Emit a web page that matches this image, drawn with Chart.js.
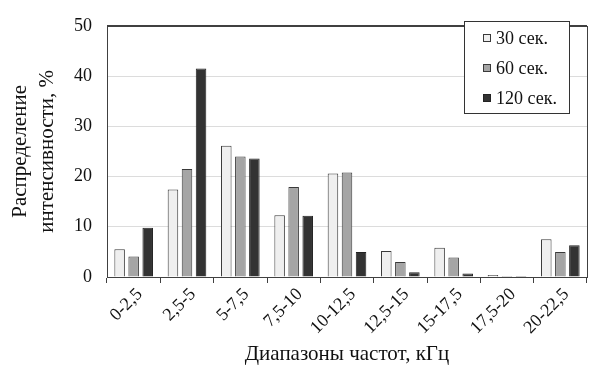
<!DOCTYPE html>
<html lang="ru">
<head>
<meta charset="utf-8">
<script src="https://cdn.jsdelivr.net/npm/chart.js@4"></script>
<style>
  html, body { margin: 0; padding: 0; background: #fff; }
  #wrap { width: 591px; height: 370px; position: relative; }
</style>
</head>
<body>
<div id="wrap"><canvas id="chartSpektr"></canvas></div>
<script>
// Диапазоны частот и распределение интенсивности (%)
const kategori = ["0-2,5", "2,5-5", "5-7,5", "7,5-10", "10-12,5", "12,5-15", "15-17,5", "17,5-20", "20-22,5"];
const data30 = [5.5, 17.4, 26.1, 12.3, 20.6, 5.2, 5.8, 0.4, 7.5];
const data60 = [4.1, 21.5, 24.0, 17.9, 20.8, 3.0, 3.9, 0.2, 5.0];
const data120 = [9.8, 41.5, 23.6, 12.2, 5.0, 0.95, 0.7, 0.2, 6.3];
const labelSeri = ["30 сек.", "60 сек.", "120 сек."];
const yTicks = [0, 10, 20, 30, 40, 50];

const hurufSerif = "'Liberation Serif', 'DejaVu Serif', serif";

// kotak legenda di dalam area grafik + bingkai
const legendaDalam = {
    id: "legendaDalam",
    afterDraw(chart) {
        const ctx = chart.ctx;
        const area = chart.chartArea;
        ctx.save();
        ctx.strokeStyle = "#404040";
        ctx.lineWidth = 1;
        ctx.strokeRect(Math.round(area.left) + 0.5, Math.round(area.top) + 0.5,
            Math.round(area.right - area.left), Math.round(area.bottom - area.top));

        const x = 464.5, y = 21.5, w = 105, h = 92;
        ctx.fillStyle = "#fff";
        ctx.fillRect(x, y, w, h);
        ctx.strokeStyle = "#333";
        ctx.strokeRect(x, y, w, h);
        ctx.font = "18px " + hurufSerif;
        ctx.textBaseline = "middle";
        chart.data.datasets.forEach((ds, i) => {
            const cy = 38 + i * 30;
            ctx.fillStyle = ds.backgroundColor;
            ctx.fillRect(483, cy - 4, 8, 8);
            ctx.strokeStyle = ds.borderColor;
            ctx.strokeRect(483.5, cy - 3.5, 7, 7);
            ctx.fillStyle = "#111";
            ctx.fillText(ds.label, 496, cy + 1);
        });
        ctx.restore();
    }
};

document.addEventListener("DOMContentLoaded", function () {
    new Chart(document.getElementById("chartSpektr"), {
        type: "bar",
        data: {
            labels: kategori,
            datasets: [
                { label: labelSeri[0], data: data30, backgroundColor: "#efefef", borderColor: "#3a3a3a", borderWidth: 1 },
                { label: labelSeri[1], data: data60, backgroundColor: "#a5a5a5", borderColor: "#3a3a3a", borderWidth: 1 },
                { label: labelSeri[2], data: data120, backgroundColor: "#333333", borderColor: "#222222", borderWidth: 1 }
            ]
        },
        options: {
            responsive: true,
            maintainAspectRatio: false,
            animation: false,
            devicePixelRatio: 1,
            layout: { padding: { top: 13, right: 4, left: 0, bottom: 0 } },
            datasets: { bar: { categoryPercentage: 0.79, barPercentage: 0.75 } },
            plugins: {
                legend: { display: false },
                tooltip: { enabled: false }
            },
            scales: {
                x: {
                    afterFit(scale) { scale.height = 93; },
                    grid: { drawOnChartArea: false, color: "#404040", tickLength: 6, offset: true },
                    border: { color: "#404040" },
                    ticks: {
                        color: "#111",
                        font: { family: hurufSerif, size: 18 },
                        maxRotation: 45,
                        minRotation: 45,
                        padding: 1,
                        labelOffset: 6
                    },
                    title: {
                        display: true,
                        text: "Диапазоны частот, кГц",
                        color: "#111",
                        font: { family: hurufSerif, size: 21 },
                        padding: { top: 4, bottom: 3 }
                    }
                },
                y: {
                    min: 0,
                    max: 50,
                    afterBuildTicks(scale) { scale.ticks = yTicks.map(v => ({ value: v })); },
                    afterFit(scale) { scale.width = 107; },
                    grid: {
                        color: ctx => (ctx.tick.value === 0 || ctx.tick.value === 50) ? "#404040" : "#dcdcdc",
                        drawTicks: false
                    },
                    border: { color: "#404040" },
                    ticks: {
                        color: "#111",
                        font: { family: hurufSerif, size: 18 },
                        padding: 15
                    },
                    title: {
                        display: true,
                        text: ["Распределение", "интенсивности, %"],
                        color: "#111",
                        font: { family: hurufSerif, size: 21, lineHeight: 1.3 },
                        padding: { top: 7, bottom: 0 }
                    }
                }
            }
        },
        plugins: [legendaDalam]
    });
});
</script>
</body>
</html>
